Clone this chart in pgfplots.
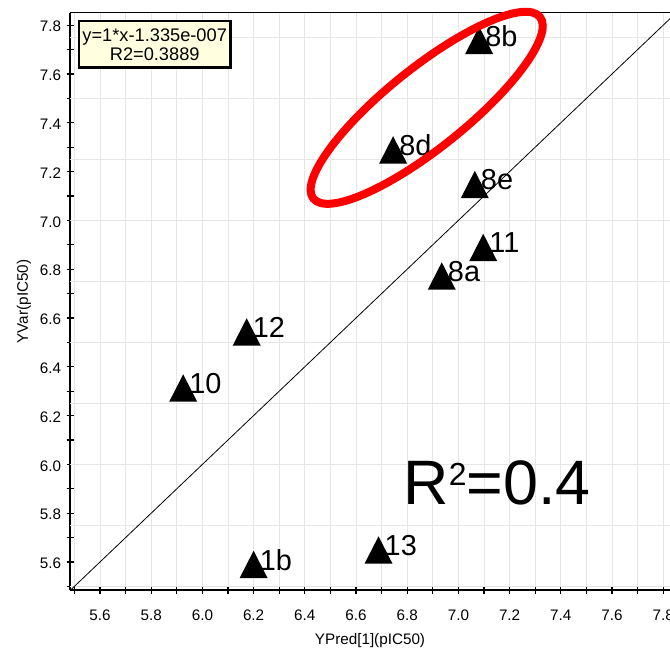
\documentclass[border=0pt]{standalone}
\usepackage{pgfplots}
\pgfplotsset{compat=1.18}
\usepackage{fontspec}
\setmainfont{Liberation Sans}
\definecolor{gridc}{RGB}{230,230,230}
\definecolor{boxfill}{RGB}{255,255,224}
\pgfdeclareplotmark{tri}{%
 \pgfpathmoveto{\pgfpoint{-14bp}{-13.7bp}}%
 \pgfpathlineto{\pgfpoint{14bp}{-13.7bp}}%
 \pgfpathlineto{\pgfpoint{0bp}{13.7bp}}%
 \pgfpathclose\pgfusepathqfill}
\pgfplotstableread{
x y label
6.200 5.590 1b
5.925 6.313 10
6.173 6.543 12
6.688 5.649 13
7.081 7.738 8b
6.745 7.289 8d
7.064 7.147 8e
7.097 6.889 11
6.935 6.772 8a
}\pts
\begin{document}
\begin{tikzpicture}
\path[use as bounding box] (0,0) rectangle (670bp,649bp);
\begin{axis}[
 at={(70bp,59bp)}, anchor=south west, scale only axis,
 width=600bp, height=577bp,
 xmin=5.4828, xmax=7.8266, ymin=5.4852, ymax=7.85,
 axis x line*=bottom, axis y line*=left,
 axis line style={-, line width=1.7bp, black},
 xtick={5.6,5.8,6.0,6.2,6.4,6.6,6.8,7.0,7.2,7.4,7.6,7.8},
 minor xtick={5.5,5.7,5.9,6.1,6.3,6.5,6.7,6.9,7.1,7.3,7.5,7.7,7.9},
 ytick={5.6,5.8,6.0,6.2,6.4,6.6,6.8,7.0,7.2,7.4,7.6,7.8},
 minor ytick={5.5,5.7,5.9,6.1,6.3,6.5,6.7,6.9,7.1,7.3,7.5,7.7},
 xmajorgrids, xminorgrids,
 major grid style={gridc, line width=1bp},
 minor grid style={gridc, line width=1bp},
 extra y ticks={5.5,5.75,6.0,6.25,6.5,6.75,7.0,7.25,7.5,7.75},
 extra y tick labels={},
 extra y tick style={ymajorgrids=true, major tick length=0pt},
 tick align=center, major tick length=7bp, minor tick length=7bp,
 tick style={black, line width=1.2bp},
 xtick pos=bottom, ytick pos=left,
 scaled ticks=false,
 /pgf/number format/fixed, /pgf/number format/fixed zerofill,
 /pgf/number format/precision=1, /pgf/number format/assume math mode=true,
 ticklabel style={font=\fontsize{15.3}{18}\selectfont},
 xticklabel style={anchor=base, inner sep=0pt, yshift=-27bp},
 yticklabel style={anchor=east, xshift=-2bp, yshift=-1.5bp},
 xlabel={YPred[1](pIC50)},
 xlabel style={at={(axis description cs:0.5,0)}, anchor=base, yshift=-54bp, font=\fontsize{15.3}{18}\selectfont},
 ylabel={YVar(pIC50)},
 ylabel style={at={(axis description cs:-0.07,0.5)}, anchor=base, font=\fontsize{15.3}{18}\selectfont},
 clip=true,
]
\addplot[black, line width=0.8bp] coordinates {(5.4,5.4) (7.9,7.9)};
\addplot[only marks, mark=tri, black, point meta=explicit symbolic,
 nodes near coords,
 nodes near coords style={anchor=west, inner sep=0pt, xshift=6bp, yshift=4.5bp,
   font=\fontsize{29}{29}\selectfont, black}]
 table[x=x, y=y, meta=label] {\pts};
\draw[black, line width=1bp] (rel axis cs:0,1) -- (rel axis cs:1,1);
\node[anchor=base west, inner sep=0pt, font=\fontsize{63}{63}\selectfont] at (axis cs:6.785,5.834)
 {R\raisebox{19bp}{\fontsize{32}{32}\selectfont 2}=0.4};
\end{axis}
\draw[red, line width=8bp, rotate around={38.7:(426.7bp,541.2bp)}] (426.7bp,541.2bp) ellipse (145.2bp and 40bp);
\node[draw=black, line width=2.5bp, fill=boxfill, minimum width=151.5bp, minimum height=46.5bp,
 inner sep=0pt, align=center, font=\fontsize{18.3}{19.5}\selectfont] at (154.7bp,604.5bp)
 {y=1*x-1.335e-007\\R2=0.3889};
\end{tikzpicture}
\end{document}
